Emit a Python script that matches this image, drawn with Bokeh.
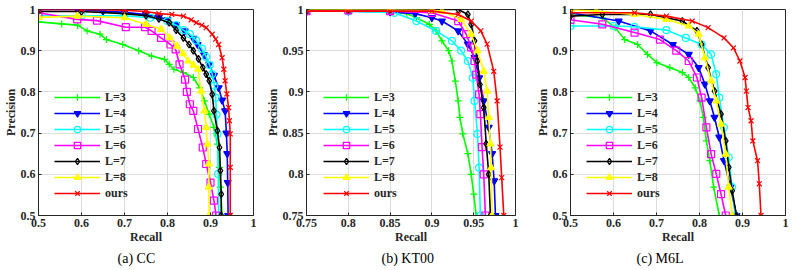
from bokeh.plotting import figure
from bokeh.layouts import row
from bokeh.models import FixedTicker, Legend, LegendItem, Title, Range1d
from bokeh.embed import file_html
from bokeh.resources import INLINE

series_names = ["L=3", "L=4", "L=5", "L=6", "L=7", "L=8", "ours"]
series_colors = ["#00ff00", "#0000ff", "#00ffff", "#ff00ff", "#000000", "#ffff00", "#ff0000"]
series_markers = ["cross", "inverted_triangle", "circle", "square", "diamond", "triangle", "x"]
series_filled = [False, True, False, False, False, True, False]

# ---------------- (a) CC ----------------
cc_l3_r = [0.50, 0.554, 0.591, 0.613, 0.643, 0.658, 0.696, 0.733, 0.763, 0.793, 0.804, 0.815, 0.837, 0.860, 0.875, 0.886, 0.897, 0.908, 0.916, 0.921, 0.923, 0.927]
cc_l3_p = [0.970, 0.965, 0.962, 0.948, 0.940, 0.927, 0.915, 0.900, 0.887, 0.879, 0.867, 0.855, 0.847, 0.835, 0.810, 0.778, 0.746, 0.714, 0.673, 0.617, 0.569, 0.500]
cc_l4_r = [0.50, 0.59, 0.65, 0.70, 0.75, 0.78, 0.80, 0.82, 0.84, 0.86, 0.87, 0.885, 0.897, 0.908, 0.919, 0.927, 0.934, 0.937, 0.939, 0.940, 0.941]
cc_l4_p = [1.000, 1.000, 0.996, 0.993, 0.988, 0.982, 0.975, 0.963, 0.948, 0.930, 0.915, 0.890, 0.867, 0.840, 0.810, 0.780, 0.754, 0.700, 0.650, 0.580, 0.500]
cc_l5_r = [0.50, 0.60, 0.70, 0.76, 0.80, 0.82, 0.837, 0.852, 0.867, 0.880, 0.890, 0.898, 0.904, 0.909, 0.912, 0.914, 0.916, 0.918, 0.919]
cc_l5_p = [0.985, 0.985, 0.985, 0.980, 0.972, 0.962, 0.950, 0.940, 0.925, 0.905, 0.885, 0.865, 0.843, 0.815, 0.786, 0.745, 0.698, 0.601, 0.500]
cc_l6_r = [0.50, 0.59, 0.636, 0.703, 0.748, 0.763, 0.785, 0.807, 0.819, 0.828, 0.841, 0.845, 0.852, 0.860, 0.871, 0.882, 0.890, 0.900, 0.908, 0.913]
cc_l6_p = [0.992, 0.976, 0.973, 0.957, 0.957, 0.948, 0.931, 0.915, 0.903, 0.867, 0.830, 0.800, 0.770, 0.754, 0.710, 0.665, 0.625, 0.580, 0.536, 0.500]
cc_l7_r = [0.50, 0.60, 0.70, 0.75, 0.78, 0.804, 0.820, 0.837, 0.850, 0.860, 0.872, 0.882, 0.890, 0.897, 0.904, 0.908, 0.916, 0.921, 0.923, 0.925, 0.925]
cc_l7_p = [0.995, 0.995, 0.990, 0.985, 0.977, 0.968, 0.950, 0.931, 0.915, 0.900, 0.880, 0.859, 0.843, 0.827, 0.794, 0.754, 0.706, 0.665, 0.609, 0.552, 0.500]
cc_l8_r = [0.50, 0.59, 0.70, 0.75, 0.785, 0.805, 0.822, 0.836, 0.848, 0.860, 0.871, 0.878, 0.886, 0.890, 0.893, 0.896, 0.896, 0.897]
cc_l8_p = [0.981, 0.984, 0.980, 0.964, 0.952, 0.932, 0.911, 0.893, 0.875, 0.865, 0.855, 0.802, 0.754, 0.714, 0.673, 0.625, 0.569, 0.500]
cc_ours_r = [0.50, 0.60, 0.70, 0.75, 0.78, 0.81, 0.837, 0.855, 0.867, 0.880, 0.890, 0.904, 0.912, 0.919, 0.927, 0.931, 0.934, 0.938, 0.942, 0.944, 0.946, 0.946, 0.946]
cc_ours_p = [1.000, 1.000, 0.998, 0.995, 0.990, 0.988, 0.984, 0.975, 0.968, 0.962, 0.956, 0.940, 0.928, 0.915, 0.883, 0.855, 0.827, 0.795, 0.762, 0.730, 0.698, 0.617, 0.500]

# ---------------- (b) KT00 ----------------
kt_l3_r = [0.75, 0.80, 0.85, 0.870, 0.8815, 0.897, 0.905, 0.912, 0.920, 0.924, 0.928, 0.9315, 0.9335, 0.937, 0.943, 0.947, 0.950, 0.953]
kt_l3_p = [1.000, 1.000, 0.998, 0.995, 0.990, 0.982, 0.974, 0.962, 0.950, 0.9375, 0.913, 0.889, 0.869, 0.849, 0.825, 0.800, 0.776, 0.750]
kt_l4_r = [0.75, 0.80, 0.85, 0.88, 0.90, 0.912, 0.9315, 0.943, 0.951, 0.9565, 0.962, 0.968, 0.972, 0.9745, 0.976]
kt_l4_p = [0.998, 0.998, 0.997, 0.995, 0.990, 0.986, 0.974, 0.958, 0.942, 0.917, 0.889, 0.857, 0.825, 0.792, 0.750]
kt_l5_r = [0.75, 0.80, 0.855, 0.8815, 0.905, 0.924, 0.935, 0.943, 0.949, 0.951, 0.9545, 0.9565, 0.958]
kt_l5_p = [0.998, 0.998, 0.996, 0.986, 0.974, 0.962, 0.950, 0.9375, 0.917, 0.889, 0.849, 0.808, 0.750]
kt_l6_r = [0.75, 0.80, 0.85, 0.90, 0.9315, 0.941, 0.947, 0.951, 0.953, 0.9565, 0.958, 0.960, 0.962, 0.964]
kt_l6_p = [0.998, 0.999, 0.998, 0.996, 0.986, 0.970, 0.954, 0.9375, 0.921, 0.897, 0.873, 0.833, 0.800, 0.750]
kt_l7_r = [0.75, 0.80, 0.85, 0.90, 0.9315, 0.943, 0.947, 0.951, 0.9545, 0.9575, 0.962, 0.965, 0.968, 0.970]
kt_l7_p = [1.000, 1.000, 1.000, 1.000, 1.000, 0.994, 0.982, 0.962, 0.9375, 0.909, 0.881, 0.837, 0.800, 0.750]
kt_l8_r = [0.75, 0.80, 0.85, 0.90, 0.912, 0.935, 0.947, 0.9545, 0.962, 0.966, 0.968, 0.970, 0.971, 0.972]
kt_l8_p = [1.000, 1.000, 1.000, 0.999, 0.998, 0.988, 0.970, 0.950, 0.925, 0.901, 0.869, 0.837, 0.808, 0.750]
kt_ours_r = [0.75, 0.80, 0.85, 0.90, 0.9315, 0.947, 0.9585, 0.966, 0.974, 0.978, 0.9815, 0.9835, 0.986]
kt_ours_p = [0.998, 0.998, 0.998, 0.998, 0.994, 0.986, 0.974, 0.958, 0.925, 0.889, 0.833, 0.796, 0.750]

# ---------------- (c) M6L ----------------
m6_l3_r = [0.50, 0.574, 0.604, 0.626, 0.656, 0.679, 0.701, 0.731, 0.760, 0.775, 0.790, 0.801, 0.809, 0.816, 0.824, 0.833, 0.846]
m6_l3_p = [0.988, 0.980, 0.956, 0.927, 0.915, 0.891, 0.871, 0.859, 0.847, 0.835, 0.810, 0.778, 0.738, 0.681, 0.633, 0.569, 0.500]
m6_l4_r = [0.50, 0.612, 0.686, 0.738, 0.775, 0.798, 0.8125, 0.824, 0.835, 0.846, 0.857, 0.872, 0.886]
m6_l4_p = [0.992, 0.972, 0.948, 0.915, 0.891, 0.859, 0.819, 0.778, 0.738, 0.690, 0.633, 0.569, 0.500]
m6_l5_r = [0.50, 0.60, 0.649, 0.723, 0.768, 0.805, 0.827, 0.839, 0.846, 0.857, 0.868, 0.876, 0.883]
m6_l5_p = [0.960, 0.960, 0.958, 0.950, 0.931, 0.915, 0.891, 0.843, 0.786, 0.714, 0.641, 0.569, 0.500]
m6_l6_r = [0.50, 0.574, 0.649, 0.708, 0.746, 0.775, 0.794, 0.805, 0.816, 0.827, 0.839, 0.850, 0.861]
m6_l6_p = [0.975, 0.964, 0.944, 0.927, 0.900, 0.875, 0.835, 0.786, 0.714, 0.649, 0.601, 0.552, 0.500]
m6_l7_r = [0.50, 0.574, 0.686, 0.760, 0.794, 0.805, 0.820, 0.835, 0.850, 0.861, 0.868, 0.876, 0.886]
m6_l7_p = [0.984, 0.988, 0.988, 0.972, 0.948, 0.915, 0.859, 0.802, 0.746, 0.681, 0.617, 0.560, 0.500]
m6_l8_r = [0.50, 0.560, 0.649, 0.723, 0.775, 0.798, 0.8125, 0.827, 0.839, 0.850, 0.861, 0.868, 0.876]
m6_l8_p = [1.000, 0.996, 0.988, 0.976, 0.960, 0.940, 0.883, 0.827, 0.778, 0.722, 0.649, 0.569, 0.500]
m6_ours_r = [0.50, 0.649, 0.723, 0.783, 0.820, 0.857, 0.879, 0.894, 0.906, 0.909, 0.913, 0.920, 0.924, 0.935, 0.939, 0.943]
m6_ours_p = [0.992, 0.992, 0.984, 0.972, 0.956, 0.931, 0.907, 0.875, 0.835, 0.802, 0.762, 0.730, 0.681, 0.633, 0.577, 0.500]

# ---------------- ticks ----------------
ab_ticks = [0.5, 0.6, 0.7, 0.8, 0.9, 1.0]
ab_labels = ["0.5", "0.6", "0.7", "0.8", "0.9", "1"]
kt_ticks = [0.75, 0.8, 0.85, 0.9, 0.95, 1.0]
kt_labels = ["0.75", "0.8", "0.85", "0.9", "0.95", "1"]

captions = ["(a) CC", "(b) KT00", "(c) M6L"]

FONT = "Liberation Serif"
DARK = "#262626"


def make_panel(data, xrange_, yrange_, xticks, xlabels, yticks, ylabels, caption,
               width, left, right, legend_x, cap_offset):
    p = figure(width=width, height=268, output_backend="svg", toolbar_location=None,
               x_range=Range1d(*xrange_), y_range=Range1d(*yrange_),
               min_border_left=left, min_border_right=right,
               min_border_top=9, min_border_bottom=53)
    p.background_fill_color = "white"
    p.outline_line_color = DARK
    p.outline_line_width = 1
    for ax, ticks, labels in ((p.xaxis[0], xticks, xlabels), (p.yaxis[0], yticks, ylabels)):
        ax.ticker = FixedTicker(ticks=ticks, minor_ticks=[])
        ax.major_label_overrides = dict(zip(ticks, labels))
        ax.major_label_text_font = FONT
        ax.major_label_text_font_style = "bold"
        ax.major_label_text_font_size = "12px"
        ax.major_label_text_color = DARK
        ax.axis_label_text_font = FONT
        ax.axis_label_text_font_style = "bold"
        ax.axis_label_text_font_size = "12px"
        ax.axis_label_text_color = DARK
        ax.axis_line_color = DARK
        ax.major_tick_line_color = DARK
        ax.major_tick_in = 3
        ax.major_tick_out = 0
        ax.minor_tick_line_color = None
        ax.axis_label_standoff = 0
    p.xaxis.axis_label = "Recall"
    p.yaxis.axis_label = "Precision"
    p.xaxis.major_label_standoff = 3
    p.yaxis.major_label_standoff = 3
    p.xgrid.ticker = FixedTicker(ticks=xticks, minor_ticks=[])
    p.ygrid.ticker = FixedTicker(ticks=yticks, minor_ticks=[])
    p.grid.grid_line_color = "#dcdcdc"
    p.grid.grid_line_width = 1

    items = []
    for (r, pr), name, col, mk, filled in zip(data, series_names, series_colors,
                                              series_markers, series_filled):
        ln = p.line(r, pr, line_color=col, line_width=1.6)
        sc = p.scatter(r, pr, marker=mk, size=7, line_color=col, line_width=1.2,
                       fill_color=col if filled else None)
        items.append(LegendItem(label=name, renderers=[ln, sc]))
    leg = Legend(items=items, location=(legend_x, 14), border_line_alpha=0,
                 background_fill_alpha=0, glyph_width=46, glyph_height=16,
                 label_height=16, spacing=0, padding=0, margin=0, label_standoff=5,
                 label_text_font=FONT, label_text_font_style="bold",
                 label_text_font_size="12px", label_text_color=DARK)
    p.add_layout(leg)
    t = Title(text=caption, align="left", offset=cap_offset, text_font=FONT,
              text_font_style="normal", text_font_size="14px", text_color="black",
              standoff=5)
    p.add_layout(t, "below")
    return p


cc_data = [(cc_l3_r, cc_l3_p), (cc_l4_r, cc_l4_p), (cc_l5_r, cc_l5_p), (cc_l6_r, cc_l6_p),
           (cc_l7_r, cc_l7_p), (cc_l8_r, cc_l8_p), (cc_ours_r, cc_ours_p)]
kt_data = [(kt_l3_r, kt_l3_p), (kt_l4_r, kt_l4_p), (kt_l5_r, kt_l5_p), (kt_l6_r, kt_l6_p),
           (kt_l7_r, kt_l7_p), (kt_l8_r, kt_l8_p), (kt_ours_r, kt_ours_p)]
m6_data = [(m6_l3_r, m6_l3_p), (m6_l4_r, m6_l4_p), (m6_l5_r, m6_l5_p), (m6_l6_r, m6_l6_p),
           (m6_l7_r, m6_l7_p), (m6_l8_r, m6_l8_p), (m6_ours_r, m6_ours_p)]

pa = make_panel(cc_data, (0.5, 1.0), (0.5, 1.0), ab_ticks, ab_labels, ab_ticks, ab_labels,
                captions[0], 262, 28, 9, 16, 79)
pb = make_panel(kt_data, (0.75, 1.0), (0.75, 1.0), kt_ticks, kt_labels, kt_ticks, kt_labels,
                captions[1], 270, 38, 17, 17, 75)
pc = make_panel(m6_data, (0.5, 1.0), (0.5, 1.0), ab_ticks, ab_labels, ab_ticks, ab_labels,
                captions[2], 258, 28, 5, 16, 66)

layout = row(pa, pb, pc)
open("out.html", "w").write(file_html(layout, INLINE))
